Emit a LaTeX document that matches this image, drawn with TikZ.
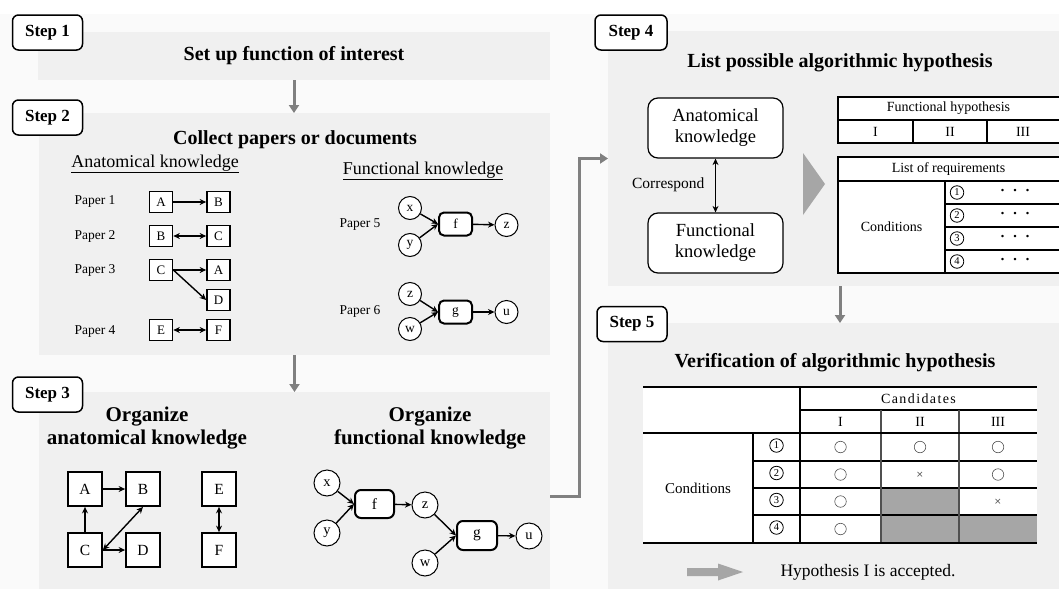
\documentclass[tikz,border=0pt]{standalone}
\usepackage{fontspec}
\setmainfont{Liberation Serif}
\newfontfamily\symfont{DejaVu Sans}
\usetikzlibrary{arrows.meta,calc}
\definecolor{panelgray}{HTML}{F0F0F0}
\definecolor{backgray}{HTML}{FAFAFA}
\definecolor{flowgray}{HTML}{808080}
\definecolor{cellgray}{HTML}{A6A6A6}
\definecolor{markgray}{HTML}{505050}
\begin{document}
\begin{tikzpicture}[x=1pt,y=-1pt,
  panel/.style={fill=panelgray,inner sep=0pt,outer sep=0pt,anchor=north west},
  steplabel/.style={draw,line width=1.5pt,rounded corners=6pt,fill=white,inner sep=0pt,
    minimum height=35pt,font=\fontsize{17}{17}\selectfont\bfseries},
  title/.style={align=center,font=\fontsize{20}{23}\selectfont\bfseries},
  bigtitle/.style={align=center,font=\fontsize{21}{23}\selectfont\bfseries},
  heading/.style={font=\fontsize{18}{18}\selectfont},
  paperlbl/.style={anchor=west,font=\fontsize{13.5}{13.5}\selectfont},
  flow/.style={draw=flowgray,line width=3pt,-{Triangle[length=8pt,width=10pt]}},
  conn/.style={line width=1.4pt,-{Stealth[length=6.5pt,width=6pt]}},
  biconn/.style={line width=1.4pt,{Stealth[length=6.5pt,width=6pt]}-{Stealth[length=6.5pt,width=6pt]}},
  abox/.style={draw,fill=white,line width=1.7pt,minimum width=23pt,minimum height=21pt,inner sep=0pt,
    font=\fontsize{13}{13}\selectfont},
  bbox/.style={draw,fill=white,line width=1.8pt,minimum size=34pt,inner sep=0pt,
    font=\fontsize{15.5}{15.5}\selectfont},
  scirc/.style={draw,fill=white,circle,line width=1pt,minimum size=23pt,inner sep=0pt,
    font=\fontsize{13.5}{13.5}\selectfont},
  lcirc/.style={draw,fill=white,circle,line width=1pt,minimum size=26pt,inner sep=0pt,
    font=\fontsize{14.5}{14.5}\selectfont},
  sfunc/.style={draw,fill=white,rounded corners=5pt,line width=2pt,minimum width=33pt,
    minimum height=23pt,inner sep=0pt,font=\fontsize{13.5}{13.5}\selectfont},
  lfunc/.style={draw,fill=white,rounded corners=6pt,line width=2pt,minimum width=40pt,
    minimum height=29pt,inner sep=0pt,font=\fontsize{15.5}{15.5}\selectfont},
  knbox/.style={draw,fill=white,rounded corners=10pt,line width=1.2pt,minimum width=135pt,
    minimum height=60pt,align=center,font=\fontsize{18.5}{21}\selectfont},
  tl/.style={line width=1.1pt},
  tcell/.style={font=\fontsize{14}{14}\selectfont},
  tnum/.style={draw,circle,line width=0.8pt,minimum size=13.5pt,inner sep=0pt,
    font=\fontsize{10.5}{10.5}\selectfont},
  tmark/.style={draw=markgray,circle,line width=0.6pt,minimum size=11.5pt,inner sep=0pt},
  tcross/.style={text=markgray,font=\symfont\fontsize{9}{9}\selectfont}
]
\useasboundingbox (0,0) rectangle (1059,589);
\fill[white] (0,0) rectangle (1059,589);
\fill[backgray] (0,14) rectangle (1059,589);

% panels
\node[panel,minimum width=512pt,minimum height=48pt] (p1) at (38,32) {};
\node[panel,minimum width=511pt,minimum height=242pt] (p2) at (39,113) {};
\node[panel,minimum width=511pt,minimum height=197pt] (p3) at (39,392) {};
\node[panel,minimum width=451pt,minimum height=255pt] (p4) at (608,31) {};
\node[panel,minimum width=451pt,minimum height=266pt] (p5) at (608,323) {};

% flow between steps
\draw[flow] (p1.south) -- (p1.south |- p2.north);
\draw[flow] (p2.south) -- (p2.south |- p3.north);
\draw[flow] ([yshift=-5.5pt]p3.east) -- ++(29.5,0) |- (p4.west);
\draw[flow] ([xshift=6.5pt]p4.south) -- ([xshift=6.5pt]p4.south |- p5.north);

% step labels
\node[steplabel,minimum width=70pt] (s1) at (47.5,32.5) {Step 1};
\node[steplabel,minimum width=70pt] (s2) at (47.5,117.5) {Step 2};
\node[steplabel,minimum width=70pt] (s3) at (47.5,394.5) {Step 3};
\node[steplabel,minimum width=72pt] (s4) at (631,32.5) {Step 4};
\node[steplabel,minimum width=70pt] (s5) at (632,324) {Step 5};

% ---------- step 1 ----------
\node[title] (t1) at (294,56) {Set up function of interest};

% ---------- step 2 ----------
\node[title] (t2) at (295,140) {Collect papers or documents};
\node[heading] (h2a) at (155,164) {\underline{Anatomical knowledge}};
\node[heading] (h2b) at (423,171) {\underline{Functional knowledge}};

\node[paperlbl] (pp1) at (71,201) {Paper 1};
\node[paperlbl] (pp2) at (71,236) {Paper 2};
\node[paperlbl] (pp3) at (71,270) {Paper 3};
\node[paperlbl] (pp4) at (71,331) {Paper 4};

\node[abox] (a1) at (161,202) {A};
\node[abox] (b1) at (218.5,202) {B};
\node[abox] (b2) at (161,236) {B};
\node[abox] (c2) at (218.5,236) {C};
\node[abox] (c3) at (161,270) {C};
\node[abox] (a3) at (218.5,270) {A};
\node[abox] (d3) at (218.5,300) {D};
\node[abox] (e4) at (161,330) {E};
\node[abox] (f4) at (218.5,330) {F};
\draw[conn] (a1) -- (b1);
\draw[biconn] (b2) -- (c2);
\draw[conn] (c3) -- (a3);
\draw[conn] (c3.east) -- (d3.west);
\draw[biconn] (e4) -- (f4);

\node[paperlbl] (pp5) at (336,225) {Paper 5};
\node[paperlbl] (pp6) at (336,311) {Paper 6};

\node[scirc] (x5) at (410,208) {x};
\node[scirc] (y5) at (410,245) {y};
\node[sfunc] (f5) at (455.5,224) {f};
\node[scirc] (z5) at (506.5,225) {z};
\draw[conn] (x5) -- (f5.west);
\draw[conn] (y5) -- (f5.west);
\draw[conn] (f5) -- (z5);

\node[scirc] (z6) at (410,294) {z};
\node[scirc] (w6) at (410,329) {w};
\node[sfunc] (g6) at (455.5,312) {g};
\node[scirc] (u6) at (506.5,312) {u};
\draw[conn] (z6) -- (g6.west);
\draw[conn] (w6) -- (g6.west);
\draw[conn] (g6) -- (u6);

% ---------- step 3 ----------
\node[bigtitle] (t3a) at (147,428) {Organize\\anatomical knowledge};
\node[bigtitle] (t3b) at (430,428) {Organize\\functional knowledge};

\node[bbox] (A) at (85,489) {A};
\node[bbox] (B) at (143,489) {B};
\node[bbox] (C) at (85,550) {C};
\node[bbox] (D) at (143,550) {D};
\node[bbox] (E) at (219,489) {E};
\node[bbox] (F) at (219,550) {F};
\draw[conn] (A) -- (B);
\draw[conn] (C) -- (A);
\draw[biconn] (C.east) -- (B.south);
\draw[conn] (C.east) -- (D.west);
\draw[biconn] (E) -- (F);

\node[lcirc] (x) at (327,483) {x};
\node[lcirc] (y) at (327,533) {y};
\node[lfunc,minimum width=39pt,minimum height=28pt] (f) at (374.5,504) {f};
\node[lcirc] (z) at (425,505) {z};
\node[lcirc] (w) at (425,563) {w};
\node[lfunc] (g) at (477,535.5) {g};
\node[lcirc] (u) at (529,536) {u};
\draw[conn] (x) -- (f.west);
\draw[conn] (y) -- (f.west);
\draw[conn] (f) -- (z);
\draw[conn] (z) -- (g.west);
\draw[conn] (w) -- (g.west);
\draw[conn] (g) -- (u);

% ---------- step 4 ----------
\node[title] (t4) at (840,63) {List possible algorithmic hypothesis};
\node[knbox] (ak) at (715.5,128) {Anatomical\\knowledge};
\node[knbox] (fk) at (715.5,243) {Functional\\knowledge};
\draw[biconn] (ak) -- (fk);
\node[font=\fontsize{15.5}{15.5}\selectfont,anchor=east] (corr) at (708,185) {Correspond};
\fill[cellgray] (803,153) -- (825,184) -- (803,215) -- cycle;

% hypothesis table
\fill[white] (838,97) rectangle (1059,143);
\draw[tl] (1059,97) -- (838,97) -- (838,143) -- (1059,143);
\draw[tl] (838,120) -- (1059,120);
\draw[tl] (913,120) -- (913,143);
\draw[tl] (987,120) -- (987,143);
\node[tcell] (fh) at (948.5,108.5) {Functional hypothesis};
\node[tcell] (h1) at (875.5,131.5) {I};
\node[tcell] (h2) at (950,131.5) {II};
\node[tcell] (h3) at (1023,131.5) {III};

% requirement table
\fill[white] (838,157) rectangle (1059,273);
\draw[tl] (1059,157) -- (838,157) -- (838,273) -- (1059,273);
\draw[tl] (838,181) -- (1059,181);
\draw[tl] (945,181) -- (945,273);
\draw[tl] (945,204) -- (1059,204);
\draw[tl] (945,227) -- (1059,227);
\draw[tl] (945,250) -- (1059,250);
\node[tcell] (lr) at (948.5,169) {List of requirements};
\node[tcell] (cond4) at (891.5,227) {Conditions};
\foreach \n [count=\i] in {192.5,215.5,238.5,261.5}{
  \node[tnum] (rn\i) at (957,\n) {\i};
  \node[font=\bfseries\fontsize{15}{15}\selectfont] (rd\i) at (1015,\n) {·\,\,\,·\,\,\,·};
}

% ---------- step 5 ----------
\node[title] (t5) at (835,363) {Verification of algorithmic hypothesis};
\fill[white] (643,387) rectangle (1037,543);
\fill[cellgray] (881,488) rectangle (959,543);
\fill[cellgray] (959,515) rectangle (1037,543);
\draw[tl] (800,410) -- (1037,410);
\draw[tl] (753,461) -- (1037,461);
\draw[tl] (753,488) -- (1037,488);
\draw[tl] (753,515) -- (1037,515);
\draw[tl] (753,433) -- (753,543);
\draw[tl] (800,387) -- (800,543);
\draw[tl,draw=markgray] (881,410) -- (881,543);
\draw[tl,draw=markgray] (959,410) -- (959,543);
\draw[line width=2pt] (643,387) -- (1037,387);
\draw[line width=1.6pt] (643,433) -- (1037,433);
\draw[line width=2.2pt] (643,543) -- (1037,543);

\node[tcell] (cand) at (918.5,398.5) {\addfontfeature{LetterSpace=10}Candidates};
\node[tcell] (c1) at (840.5,421.5) {I};
\node[tcell] (c2) at (920,421.5) {II};
\node[tcell] (c3) at (998,421.5) {III};
\node[font=\fontsize{15}{15}\selectfont] (cond5) at (698,488) {Conditions};
\foreach \n [count=\i] in {445.5,473,500,527.5}{
  \node[tnum] (vn\i) at (776.5,\n) {\i};
}
\node[tmark] (m11) at (840.5,447) {};
\node[tmark] (m12) at (920,447) {};
\node[tmark] (m13) at (998,447) {};
\node[tmark] (m21) at (840.5,474.5) {};
\node[tcross] (m22) at (920,474.5) {×};
\node[tmark] (m23) at (998,474.5) {};
\node[tmark] (m31) at (840.5,501.5) {};
\node[tcross] (m33) at (998,501.5) {×};
\node[tmark] (m41) at (840.5,529) {};

\fill[cellgray] (687,568) -- (718,568) -- (718,563.5) -- (743,572) -- (718,580.5) -- (718,576) -- (687,576) -- cycle;
\node[font=\fontsize{17.5}{17.5}\selectfont] (acc) at (868,572) {Hypothesis I is accepted.};
\end{tikzpicture}
\end{document}
